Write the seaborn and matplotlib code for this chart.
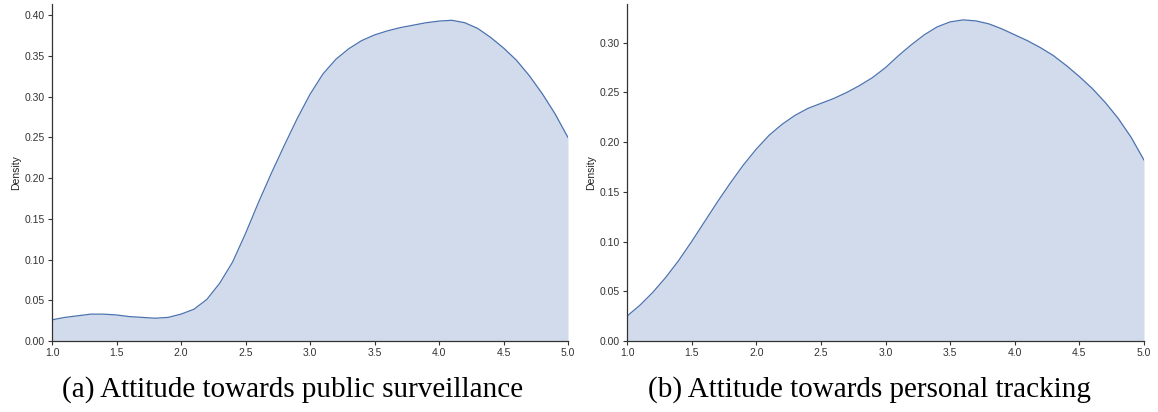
import numpy as np
import pandas as pd
import matplotlib
matplotlib.use("Agg")
import matplotlib.pyplot as plt
import seaborn as sns

# Attitude score grid (Likert scale 1-5) and estimated densities
score = [1.0, 1.1, 1.2, 1.3, 1.4, 1.5, 1.6, 1.7, 1.8, 1.9,
         2.0, 2.1, 2.2, 2.3, 2.4, 2.5, 2.6, 2.7, 2.8, 2.9,
         3.0, 3.1, 3.2, 3.3, 3.4, 3.5, 3.6, 3.7, 3.8, 3.9,
         4.0, 4.1, 4.2, 4.3, 4.4, 4.5, 4.6, 4.7, 4.8, 4.9, 5.0]

density_surveillance = [0.026, 0.029, 0.031, 0.033, 0.033, 0.032, 0.030, 0.029, 0.028, 0.029,
                        0.033, 0.039, 0.051, 0.071, 0.097, 0.132, 0.170, 0.206, 0.240, 0.273,
                        0.303, 0.328, 0.346, 0.359, 0.369, 0.376, 0.381, 0.385, 0.388, 0.391,
                        0.393, 0.394, 0.391, 0.384, 0.373, 0.360, 0.345, 0.326, 0.304, 0.279, 0.250]

density_tracking = [0.025, 0.036, 0.049, 0.064, 0.081, 0.100, 0.120, 0.140, 0.159, 0.177,
                    0.193, 0.207, 0.218, 0.227, 0.234, 0.239, 0.244, 0.250, 0.257, 0.265,
                    0.275, 0.287, 0.298, 0.308, 0.316, 0.321, 0.323, 0.322, 0.319, 0.314,
                    0.308, 0.302, 0.295, 0.287, 0.277, 0.266, 0.254, 0.240, 0.224, 0.205, 0.182]

x_ticks = [1.0, 1.5, 2.0, 2.5, 3.0, 3.5, 4.0, 4.5, 5.0]
y_ticks_a = [0.00, 0.05, 0.10, 0.15, 0.20, 0.25, 0.30, 0.35, 0.40]
y_ticks_b = [0.00, 0.05, 0.10, 0.15, 0.20, 0.25, 0.30]

captions = ["(a) Attitude towards public surveillance",
            "(b) Attitude towards personal tracking"]

sns.set_theme(style="ticks")
plt.rcParams["font.family"] = ["Liberation Sans", "DejaVu Sans"]

line_color = sns.color_palette("deep")[0]

fig = plt.figure(figsize=(11.58, 4.12), dpi=100)
ax_a = fig.add_axes([52 / 1158, 1 - 341 / 412, 516 / 1158, 337 / 412])
ax_b = fig.add_axes([627 / 1158, 1 - 341 / 412, 517 / 1158, 337 / 412])


def draw_density(ax, values, yticks, ymax):
    df = pd.DataFrame({"score": score, "density": values})
    sns.lineplot(data=df, x="score", y="density", ax=ax,
                 color=line_color, linewidth=0.9,
                 solid_joinstyle="round", solid_capstyle="round")
    ax.fill_between(df["score"], df["density"], 0,
                    color=line_color, alpha=0.25, linewidth=0)
    ax.set_xlim(1.0, 5.0)
    ax.set_ylim(0, ymax)
    ax.set_xticks(x_ticks)
    ax.set_xticklabels([f"{t:.1f}" for t in x_ticks])
    ax.set_yticks(yticks)
    ax.set_yticklabels([f"{t:.2f}" for t in yticks])
    ax.set_xlabel("")
    ax.set_ylabel("Density", fontsize=7.5, color="#222222", labelpad=3)
    ax.tick_params(axis="both", labelsize=7.5, colors="#333333",
                   length=3, width=0.8, pad=2)
    for side in ("left", "bottom"):
        ax.spines[side].set_color("#333333")
        ax.spines[side].set_linewidth(0.9)
    sns.despine(ax=ax)


draw_density(ax_a, density_surveillance, y_ticks_a, 0.414)
draw_density(ax_b, density_tracking, y_ticks_b, 0.339)

fig.text(293 / 1158, 1 - 397 / 412, captions[0], ha="center", va="baseline",
         fontsize=21, family="Liberation Serif", color="black")
fig.text(869 / 1158, 1 - 397 / 412, captions[1], ha="center", va="baseline",
         fontsize=21, family="Liberation Serif", color="black")

fig.savefig("out.png", dpi=100)
